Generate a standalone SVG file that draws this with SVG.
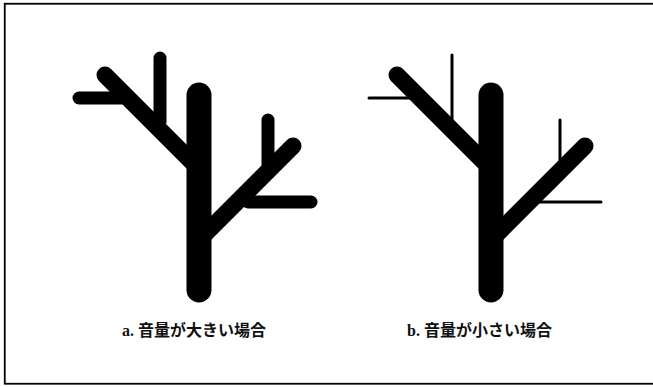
<svg xmlns="http://www.w3.org/2000/svg" width="653" height="387" viewBox="0 0 653 387">
<style>
.trunk{stroke:#000;stroke-width:25;stroke-linecap:round;fill:none}
.branch{stroke:#000;stroke-width:17;stroke-linecap:round;fill:none}
.twig{stroke:#000;stroke-width:13;stroke-linecap:round;fill:none}
.thin{stroke:#000;stroke-width:3;stroke-linecap:round;fill:none}
.label{font-family:"Liberation Serif","Noto Sans CJK JP",serif;font-size:16px;font-weight:bold;fill:#111}
</style>
<rect x="0" y="0" width="653" height="387" fill="#fff"/>
<rect x="4.75" y="3.75" width="660" height="380" fill="none" stroke="#000" stroke-width="1.8"/>
<g id="tree-a">
<line class="twig" x1="79" y1="98" x2="122" y2="98"/>
<line class="twig" x1="160" y1="58" x2="160" y2="122"/>
<line class="twig" x1="268" y1="120" x2="268" y2="172"/>
<line class="twig" x1="248" y1="202" x2="311" y2="202"/>
<line class="branch" x1="105" y1="75" x2="199" y2="169"/>
<line class="branch" x1="199" y1="240" x2="293" y2="146"/>
<line class="trunk" x1="199" y1="95" x2="199" y2="290"/>
</g>
<g id="tree-b">
<line class="thin" x1="369" y1="98" x2="412" y2="98"/>
<line class="thin" x1="452" y1="55" x2="452" y2="120"/>
<line class="thin" x1="560" y1="120" x2="560" y2="164"/>
<line class="thin" x1="540" y1="202" x2="601" y2="202"/>
<line class="branch" x1="397" y1="75" x2="491" y2="169"/>
<line class="branch" x1="491" y1="240" x2="585" y2="146"/>
<line class="trunk" x1="491" y1="95" x2="491" y2="290"/>
</g>
<g id="labels">
<text class="label" x="122" y="336">a. 音量が大きい場合</text>
<text class="label" x="407" y="336">b. 音量が小さい場合</text>
</g>
</svg>
